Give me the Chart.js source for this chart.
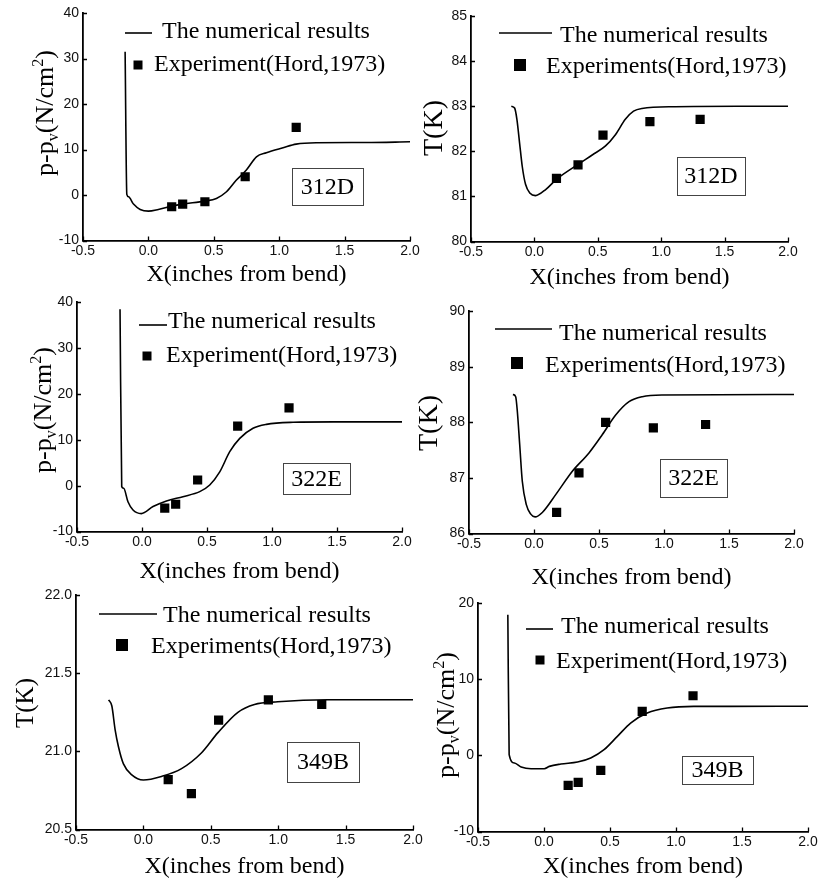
<!DOCTYPE html>
<html>
<head>
<meta charset="utf-8">
<script src="https://cdn.jsdelivr.net/npm/chart.js@4.4.0/dist/chart.umd.min.js"></script>
<style>
  body { margin: 0; background: #fff; width: 818px; height: 884px; position: relative; overflow: hidden; }
  canvas { position: absolute; }
</style>
</head>
<body>
<canvas id="p1"></canvas>
<canvas id="p2"></canvas>
<canvas id="p3"></canvas>
<canvas id="p4"></canvas>
<canvas id="p5"></canvas>
<canvas id="p6"></canvas>
<script>
// ---- data ----
// 312D, pressure
const x312P = [-0.178, -0.165, -0.152, -0.114, -0.063, 0.0, 0.076, 0.178, 0.262, 0.432, 0.52, 0.597, 0.673, 0.749, 0.826, 0.902, 1.03, 1.13, 1.283, 1.664, 2.0];
const y312P = [31.5, 0.15, -0.37, -1.98, -3.15, -3.52, -3.15, -2.42, -1.98, -1.32, -0.73, 0.73, 3.3, 5.5, 8.4, 9.3, 10.4, 11.2, 11.5, 11.55, 11.7];
const x312PExp = [0.178, 0.262, 0.432, 0.74, 1.13];
const y312PExp = [-2.56, -1.98, -1.47, 4.03, 14.87];

// 312D, temperature
const x312T = [-0.182, -0.156, -0.138, -0.117, -0.096, -0.07, -0.034, 0.008, 0.091, 0.174, 0.344, 0.456, 0.561, 0.639, 0.717, 0.782, 0.848, 1.109, 1.6, 2.0];
const y312T = [83.0, 82.96, 82.71, 82.19, 81.67, 81.27, 81.07, 81.02, 81.16, 81.38, 81.71, 81.92, 82.12, 82.37, 82.71, 82.89, 82.95, 82.99, 83.0, 83.0];
const x312TExp = [0.174, 0.344, 0.541, 0.911, 1.307];
const y312TExp = [81.40, 81.70, 82.36, 82.66, 82.71];

// 322E, pressure
const x322P = [-0.169, -0.156, -0.141, -0.108, -0.069, -0.005, 0.085, 0.188, 0.315, 0.444, 0.521, 0.598, 0.675, 0.752, 0.854, 0.957, 1.162, 1.47, 2.0];
const y322P = [38.4, -0.2, -0.57, -3.5, -5.3, -6.08, -4.55, -3.33, -2.39, -1.3, 0.15, 3.0, 7.4, 10.3, 12.5, 13.35, 13.8, 13.9, 13.9];
const x322PExp = [0.175, 0.259, 0.428, 0.736, 1.131];
const y322PExp = [-4.9, -4.05, 1.24, 12.98, 16.96];

// 322E, temperature
const x322T = [-0.162, -0.141, -0.128, -0.11, -0.09, -0.059, -0.025, 0.008, 0.064, 0.167, 0.295, 0.423, 0.526, 0.628, 0.731, 0.833, 0.987, 2.0];
const y322T = [88.5, 88.46, 88.19, 87.6, 86.94, 86.52, 86.35, 86.30, 86.38, 86.70, 87.12, 87.45, 87.78, 88.13, 88.37, 88.46, 88.49, 88.5];
const x322TExp = [0.174, 0.346, 0.551, 0.918, 1.32];
const y322TExp = [86.38, 87.09, 88.0, 87.9, 87.96];

// 349B, temperature
const x349T = [-0.258, -0.234, -0.21, -0.185, -0.148, -0.086, 0.0, 0.135, 0.283, 0.43, 0.553, 0.701, 0.824, 0.996, 1.365, 2.0];
const y349T = [21.33, 21.29, 21.14, 21.03, 20.92, 20.85, 20.817, 20.84, 20.89, 20.99, 21.12, 21.25, 21.30, 21.317, 21.33, 21.33];
const x349TExp = [0.184, 0.356, 0.558, 0.927, 1.323];
const y349TExp = [20.82, 20.73, 21.2, 21.33, 21.30];

// 349B, pressure
const x349P = [-0.274, -0.264, -0.224, -0.173, -0.098, 0.002, 0.04, 0.128, 0.254, 0.354, 0.455, 0.556, 0.656, 0.782, 0.933, 1.134, 1.41, 2.0];
const y349P = [18.46, 0.1, -1.0, -1.52, -1.75, -1.75, -1.44, -1.13, -0.87, -0.34, 0.75, 2.5, 4.25, 5.56, 6.22, 6.43, 6.43, 6.45];
const x349PExp = [0.183, 0.259, 0.43, 0.744, 1.129];
const y349PExp = [-3.94, -3.54, -1.97, 5.78, 7.83];

const xTickLabels = ['-0.5', '0.0', '0.5', '1.0', '1.5', '2.0'];
const xTitle = 'X(inches from bend)';
const lineLabel = 'The numerical results';
const pTitle = [['p-p'], ['v', 'sub'], ['(N/cm'], ['2', 'sup'], [')']];
const tTitle = [['T(K)']];

const SERIF = '"Liberation Serif", "Times New Roman", serif';
const SANS = '"Liberation Sans", Arial, sans-serif';
const PAD_L = 80, PAD_T = 14, PAD_R = 14;
const TICK = 4;

const pts = (xs, ys) => xs.map((x, i) => ({ x: x, y: ys[i] }));

function decor(cfg) {
  return {
    id: 'decor',
    afterDraw(chart) {
      const { ctx, chartArea: { left, top, bottom } } = chart;
      const lg = cfg.legend;
      ctx.save();
      ctx.fillStyle = '#000';
      ctx.strokeStyle = '#000';

      // inward tick marks
      ctx.lineWidth = 1.3;
      ctx.beginPath();
      chart.scales.x.ticks.forEach(t => {
        const px = Math.round(chart.scales.x.getPixelForValue(t.value)) + 0.5;
        ctx.moveTo(px, bottom);
        ctx.lineTo(px, bottom - TICK);
      });
      chart.scales.y.ticks.forEach(t => {
        const py = Math.round(chart.scales.y.getPixelForValue(t.value)) + 0.5;
        ctx.moveTo(left, py);
        ctx.lineTo(left + TICK, py);
      });
      ctx.stroke();

      // legend inside the plot
      ctx.lineWidth = 1.6;
      ctx.beginPath();
      ctx.moveTo(left + lg.line[0], top + lg.line[2]);
      ctx.lineTo(left + lg.line[1], top + lg.line[2]);
      ctx.stroke();
      ctx.font = '24px ' + SERIF;
      ctx.textBaseline = 'alphabetic';
      ctx.textAlign = 'left';
      ctx.fillText(chart.data.datasets[0].label, left + lg.t1[0], top + lg.t1[1]);
      const s = lg.sq[2];
      ctx.fillRect(left + lg.sq[0] - s / 2, top + lg.sq[1] - s / 2, s, s);
      ctx.fillText(chart.data.datasets[1].label, left + lg.t2[0], top + lg.t2[1]);

      // case label box
      const b = cfg.box;
      ctx.lineWidth = 1;
      ctx.strokeStyle = '#444';
      ctx.strokeRect(left + b[0] + 0.5, top + b[1] + 0.5, b[2] - b[0], b[3] - b[1]);
      ctx.textAlign = 'center';
      ctx.textBaseline = 'middle';
      ctx.fillText(cfg.caseName, left + (b[0] + b[2]) / 2, top + (b[1] + b[3]) / 2 + 1);

      // y axis title, rotated, with sub/superscripts
      const fs = cfg.yTitleSize;
      const parts = cfg.yTitle.map(([t, kind]) => {
        const size = kind ? fs * 0.62 : fs;
        ctx.font = size + 'px ' + SERIF;
        return { t, kind, size, w: ctx.measureText(t).width };
      });
      const total = parts.reduce((a, p) => a + p.w, 0);
      ctx.translate(left - cfg.yTitlePos[0], top + cfg.yTitlePos[1]);
      ctx.rotate(-Math.PI / 2);
      ctx.textAlign = 'left';
      ctx.textBaseline = 'alphabetic';
      let x = -total / 2;
      const base = fs * 0.33;
      parts.forEach(p => {
        ctx.font = p.size + 'px ' + SERIF;
        let dy = 0;
        if (p.kind === 'sub') dy = fs * 0.22;
        if (p.kind === 'sup') dy = -fs * 0.38;
        ctx.fillText(p.t, x, base + dy);
        x += p.w;
      });
      ctx.restore();
    }
  };
}

function makePanel(id, cfg) {
  const [l, t, r, b] = cfg.area;
  const xH = cfg.xTitleOff + 14.4;
  const el = document.getElementById(id);
  const w = (r - l) + PAD_L + PAD_R;
  const h = (b - t) + PAD_T + xH;
  el.width = w; el.height = h;
  el.style.left = (l - PAD_L) + 'px';
  el.style.top = (t - PAD_T) + 'px';
  el.style.width = w + 'px';
  el.style.height = h + 'px';

  new Chart(el, {
    data: {
      datasets: [{
        type: 'line',
        label: lineLabel,
        data: pts(cfg.lineX, cfg.lineY),
        borderColor: '#000',
        borderWidth: 1.6,
        pointRadius: 0,
        cubicInterpolationMode: 'monotone',
        fill: false,
        order: 2
      }, {
        type: 'scatter',
        label: cfg.expLabel,
        data: pts(cfg.expX, cfg.expY),
        pointStyle: 'rect',
        pointRadius: 6.5,
        backgroundColor: '#000',
        borderWidth: 0,
        order: 1
      }]
    },
    options: {
      responsive: false,
      animation: false,
      events: [],
      layout: { padding: { left: 0, top: PAD_T, right: PAD_R, bottom: 0 } },
      plugins: { legend: { display: false }, tooltip: { enabled: false } },
      scales: {
        x: {
          type: 'linear',
          min: -0.5, max: 2.0,
          afterFit: s => { s.height = xH; },
          afterBuildTicks: s => { s.ticks = xTickLabels.map(v => ({ value: parseFloat(v) })); },
          ticks: {
            color: '#111',
            font: { family: SANS, size: 14 },
            padding: 2,
            maxRotation: 0,
            callback: v => xTickLabels.find(lbl => parseFloat(lbl) === v)
          },
          grid: { display: false, drawTicks: false },
          border: { display: true, color: '#000', width: 1.8 },
          title: { display: true, text: xTitle, color: '#000', font: { family: SERIF, size: 24 }, padding: 0 }
        },
        y: {
          type: 'linear',
          min: cfg.yMin, max: cfg.yMax,
          afterFit: s => { s.width = PAD_L; },
          ticks: {
            stepSize: cfg.yStep,
            color: '#111',
            font: { family: SANS, size: 14 },
            padding: 4,
            callback: v => cfg.yDec ? v.toFixed(cfg.yDec) : String(Math.round(v))
          },
          grid: { display: false, drawTicks: false },
          border: { display: true, color: '#000', width: 1.8 }
        }
      }
    },
    plugins: [decor(cfg)]
  });
}

makePanel('p1', {
  area: [83, 13, 410, 241], yMin: -10, yMax: 40, yStep: 10, yDec: 0,
  lineX: x312P, lineY: y312P, expX: x312PExp, expY: y312PExp,
  expLabel: 'Experiment(Hord,1973)', caseName: '312D',
  yTitle: pTitle, yTitleSize: 26, yTitlePos: [39, 100], xTitleOff: 34,
  legend: { line: [42, 69, 20], t1: [79, 25], sq: [55, 52, 9], t2: [71, 58] },
  box: [209, 155, 280, 192]
});

makePanel('p2', {
  area: [471, 16, 788, 242], yMin: 80, yMax: 85, yStep: 1, yDec: 0,
  lineX: x312T, lineY: y312T, expX: x312TExp, expY: y312TExp,
  expLabel: 'Experiments(Hord,1973)', caseName: '312D',
  yTitle: tTitle, yTitleSize: 28, yTitlePos: [38, 112], xTitleOff: 36,
  legend: { line: [28, 81, 17], t1: [89, 26], sq: [49, 49, 12], t2: [75, 57] },
  box: [206, 141, 274, 179]
});

makePanel('p3', {
  area: [77, 302, 402, 532], yMin: -10, yMax: 40, yStep: 10, yDec: 0,
  lineX: x322P, lineY: y322P, expX: x322PExp, expY: y322PExp,
  expLabel: 'Experiment(Hord,1973)', caseName: '322E',
  yTitle: pTitle, yTitleSize: 26, yTitlePos: [35, 108], xTitleOff: 40,
  legend: { line: [62, 90, 23], t1: [91, 26], sq: [70, 54, 9], t2: [89, 60] },
  box: [206, 161, 273, 192]
});

makePanel('p4', {
  area: [469, 311, 794, 534], yMin: 86, yMax: 90, yStep: 1, yDec: 0,
  lineX: x322T, lineY: y322T, expX: x322TExp, expY: y322TExp,
  expLabel: 'Experiments(Hord,1973)', caseName: '322E',
  yTitle: tTitle, yTitleSize: 28, yTitlePos: [41, 112], xTitleOff: 44,
  legend: { line: [26, 83, 18], t1: [90, 29], sq: [48, 52, 12], t2: [76, 61] },
  box: [191, 148, 258, 186]
});

makePanel('p5', {
  area: [76, 595, 413, 830], yMin: 20.5, yMax: 22.0, yStep: 0.5, yDec: 1,
  lineX: x349T, lineY: y349T, expX: x349TExp, expY: y349TExp,
  expLabel: 'Experiments(Hord,1973)', caseName: '349B',
  yTitle: tTitle, yTitleSize: 25, yTitlePos: [51, 108], xTitleOff: 37,
  legend: { line: [23, 81, 19], t1: [87, 27], sq: [46, 50, 12], t2: [75, 58] },
  box: [211, 147, 283, 187]
});

makePanel('p6', {
  area: [478, 603, 808, 832], yMin: -10, yMax: 20, yStep: 10, yDec: 0,
  lineX: x349P, lineY: y349P, expX: x349PExp, expY: y349PExp,
  expLabel: 'Experiment(Hord,1973)', caseName: '349B',
  yTitle: pTitle, yTitleSize: 26, yTitlePos: [33, 112], xTitleOff: 35,
  legend: { line: [48, 75, 26], t1: [83, 30], sq: [62, 57, 9], t2: [78, 65] },
  box: [204, 153, 275, 181]
});
</script>
</body>
</html>
